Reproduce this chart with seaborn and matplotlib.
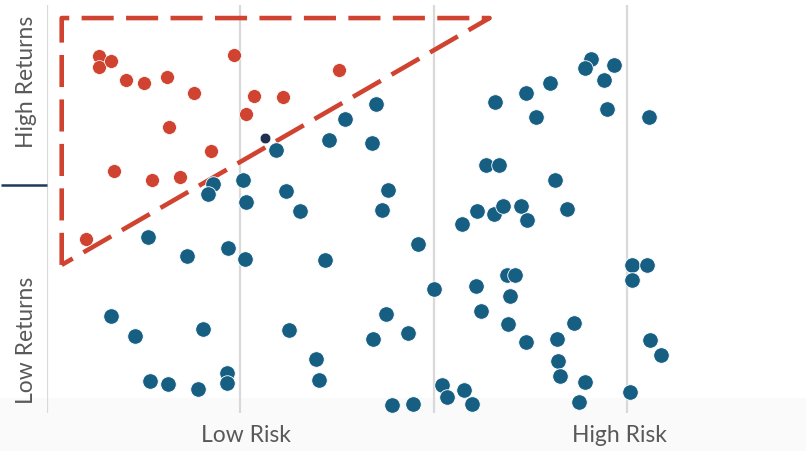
import matplotlib
matplotlib.use("Agg")
import matplotlib.pyplot as plt
import matplotlib.patches as mpatches
import matplotlib.transforms as mtransforms
import seaborn as sns
import pandas as pd

# ---- data (risk 0-100, returns 0-100) ----
red_risk = [6.7, 6.7, 8.3, 10.2, 12.5, 15.5, 19.0, 24.2, 26.7, 30.5, 25.7, 15.8,
            21.2, 8.7, 13.6, 17.2, 37.7, 5.0]
red_ret = [87.5, 84.8, 86.3, 81.6, 80.9, 82.4, 78.4, 87.7, 77.7, 77.5, 73.3, 70.1,
           64.2, 59.3, 57.1, 57.8, 84.1, 42.6]

navy_risk = [28.2]
navy_ret = [67.4]

blue_risk = [29.6, 21.4, 20.8, 25.3, 25.7, 30.9, 32.7, 13.0, 18.1, 23.4, 25.6, 8.3,
             11.4, 20.2, 31.3, 13.3, 15.6, 19.5, 23.3, 23.3, 35.9, 47.9, 50.0, 55.4,
             59.4, 60.5, 59.8, 56.1, 59.6, 61.9, 43.8, 42.1, 46.6, 34.8, 35.1, 44.6,
             47.3, 51.0, 51.7, 53.9, 54.9, 65.9, 68.1, 66.1, 66.3, 69.6, 68.7, 75.6,
             77.5, 75.6, 77.9, 79.3, 75.3, 57.9, 61.9, 63.2, 65.0, 70.3, 69.5, 73.3,
             72.0, 72.4, 77.8, 56.7, 58.4, 65.6, 55.6, 57.8, 59.0, 61.2, 62.0, 67.2,
             53.7, 44.1, 43.3, 38.5, 42.5, 36.4, 42.0]
blue_ret = [64.5, 56.1, 53.7, 57.1, 51.7, 54.4, 49.5, 43.1, 38.5, 40.4, 37.7, 23.8,
            18.9, 20.6, 20.3, 7.8, 7.1, 5.9, 9.8, 7.4, 37.5, 41.4, 30.4, 31.1,
            33.8, 33.8, 28.7, 25.0, 21.8, 17.4, 24.3, 18.1, 19.6, 13.2, 8.1, 2.0,
            2.2, 6.9, 3.9, 5.6, 2.2, 18.1, 22.1, 12.7, 9.1, 7.6, 2.7, 36.3,
            36.3, 32.6, 17.9, 14.2, 5.1, 76.2, 78.4, 72.5, 80.9, 86.8, 84.6, 85.3,
            81.6, 74.5, 72.5, 60.8, 60.8, 57.1, 49.5, 48.8, 50.7, 50.7, 47.3, 50.0,
            46.3, 54.7, 49.8, 72.1, 75.7, 66.9, 66.2]

# triangle (high return / low risk zone)
tri_risk = [1.9, 1.9, 57.2, 1.9]
tri_ret = [36.3, 96.8, 96.8, 36.3]

risk_ticks = [0, 25, 50, 75]
mid_return = 55.9
x_labels = ["Low Risk", "High Risk"]
x_label_pos = [25.7, 74.0]
y_labels = ["High Returns", "Low Returns"]
y_label_pos = [81.1, 17.9]

BLUE = "#175f82"
RED = "#cf4330"
NAVY = "#1f2f4d"
GRID = "#d9d9d9"
TEXT = "#595959"

sns.set_theme(style="white")
plt.rcParams["font.family"] = ["Lato", "DejaVu Sans"]

fig = plt.figure(figsize=(8.06, 4.51), dpi=100)
fig.patch.set_facecolor("white")
# faint bottom band (behind everything)
band = mpatches.Rectangle((0, 0), 1, (451 - 398) / 451,
                          transform=fig.transFigure, color="#fafafa", zorder=-10)
fig.patches.append(band)
ax = fig.add_axes([47 / 806, (451 - 413) / 451, (806 - 47) / 806, 408 / 451])
ax.set_facecolor("none")
ax.patch.set_alpha(0)

df_b = pd.DataFrame({"risk": blue_risk, "ret": blue_ret})
df_r = pd.DataFrame({"risk": red_risk, "ret": red_ret})
df_n = pd.DataFrame({"risk": navy_risk, "ret": navy_ret})

sns.scatterplot(data=df_b, x="risk", y="ret", ax=ax, color=BLUE, s=125,
                edgecolor="white", linewidth=0.6, zorder=3)
sns.scatterplot(data=df_r, x="risk", y="ret", ax=ax, color=RED, s=100,
                edgecolor="white", linewidth=0.5, zorder=3)
sns.scatterplot(data=df_n, x="risk", y="ret", ax=ax, color=NAVY, s=58,
                edgecolor="white", linewidth=0.4, zorder=4)

ax.plot(tri_risk, tri_ret, color=RED, lw=3.3, dashes=(7, 2.7),
        solid_capstyle="butt", dash_capstyle="butt", zorder=2)

ax.set_xlim(0, 98.1)
ax.set_ylim(0, 100)
ax.set_xticks(risk_ticks)
ax.set_xticklabels([])
ax.set_yticks([mid_return])
ax.set_yticklabels([])
ax.grid(True, axis="x", color=GRID, lw=1.6, zorder=0)
ax.grid(False, axis="y")
ax.tick_params(axis="x", length=0, bottom=False)
ax.tick_params(axis="y", left=True, length=33, width=1.8, color="#1f3a5a",
               direction="out")
for s in ax.spines.values():
    s.set_visible(False)
ax.set_xlabel("")
ax.set_ylabel("")

tx = mtransforms.blended_transform_factory(ax.transData, ax.transAxes)
for lab, pos in zip(x_labels, x_label_pos):
    ax.text(pos, -0.056, lab, transform=tx, ha="center", va="center",
            fontsize=16.5, color=TEXT)
ty = mtransforms.blended_transform_factory(fig.transFigure, ax.transData)
for lab, pos in zip(y_labels, y_label_pos):
    ax.text(27 / 806, pos, lab, transform=ty, ha="center", va="center",
            rotation=90, fontsize=16.5, color=TEXT)

fig.savefig("out.png", dpi=100)
